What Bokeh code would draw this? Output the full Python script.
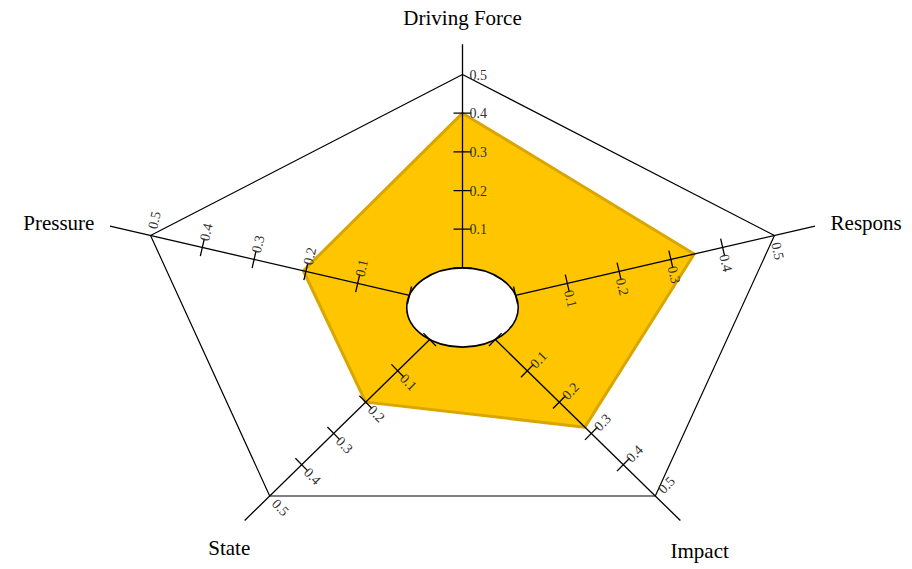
import numpy as np
from bokeh.plotting import figure
from bokeh.models import Range1d
from bokeh.embed import file_html
from bokeh.resources import INLINE

# ---- data ----
categories = ["Driving Force", "Respons", "Impact", "State", "Pressure"]
values = [0.40, 0.345, 0.28, 0.20, 0.205]
tick_values = [0.0, 0.1, 0.2, 0.3, 0.4]
tick_labels = ["0.1", "0.2", "0.3", "0.4", "0.5"]
label_values = [0.1, 0.2, 0.3, 0.4, 0.5]
max_value = 0.5

# ---- geometry ----
W, H = 910, 567
CX, CY = 462, 307          # centre in figure pixels
SX, SY = 328.0, 233.0      # pixels per unit radius (x, y)
R0 = 0.17                  # hole radius (fraction of full radius)
AX_END = 1.13

angles = np.deg2rad([90, 18, -54, -126, 162])

def rad(v):
    return R0 + (np.asarray(v) / max_value) * (1 - R0)

p = figure(width=W, height=H, output_backend="svg", toolbar_location=None,
           min_border=0, outline_line_color=None)
p.x_range = Range1d(-CX / SX, (W - CX) / SX)
p.y_range = Range1d(-(H - CY) / SY, CY / SY)
p.axis.visible = False
p.grid.visible = False
p.background_fill_color = "white"
p.border_fill_color = "white"

# outer pentagon
p.patch(np.cos(angles) * 1.0, np.sin(angles) * 1.0, fill_color=None,
        line_color="black", line_width=1.2)

# data polygon
vr = rad(values)
p.patch(np.cos(angles) * vr, np.sin(angles) * vr, fill_color="#FFC600",
        line_color="#D9A600", line_width=3, line_join="round")

# centre hole
p.ellipse(x=0, y=0, width=2 * R0, height=2 * R0,
          fill_color="white", line_color="black", line_width=1.6)

# axes lines
p.segment(x0=np.cos(angles) * R0, y0=np.sin(angles) * R0,
          x1=np.cos(angles) * AX_END, y1=np.sin(angles) * AX_END,
          line_color="black", line_width=1.3)

# ticks and tick labels
tx, ty, tang = [], [], []
lx, ly, lang, ltxt = [], [], [], []
for a in angles:
    dx, dy = np.cos(a) * SX, np.sin(a) * SY
    n = np.hypot(dx, dy)
    dx, dy = dx / n, dy / n
    px_, py_ = dy, -dx
    if px_ < 0 or (abs(px_) < 1e-9 and py_ < 0):
        px_, py_ = -px_, -py_
    pang = np.arctan2(py_, px_)
    for v in tick_values:
        r = rad(v)
        tx.append(np.cos(a) * r)
        ty.append(np.sin(a) * r)
        tang.append(pang)
    for v, t in zip(label_values, tick_labels):
        r = rad(v)
        off = 7.0
        lx.append(np.cos(a) * r + px_ * off / SX)
        ly.append(np.sin(a) * r + py_ * off / SY)
        lang.append(pang)
        ltxt.append(t)

p.scatter(x=tx, y=ty, marker="dash", size=18, angle=tang,
          line_color="black", line_width=1.3)
p.text(x=lx, y=ly, text=ltxt, angle=lang, text_font="Liberation Serif",
       text_font_size="14px", text_color="#333333",
       text_align="left", text_baseline="middle")

# category labels
cl_r = [1.19, 1.18, 1.23, 1.21, 1.18]
aligns = ["center", "left", "center", "center", "right"]
bases = ["bottom", "middle", "top", "top", "middle"]
for c, a, r, al, b in zip(categories, angles, cl_r, aligns, bases):
    p.text(x=[np.cos(a) * r], y=[np.sin(a) * r], text=[c],
           text_font="Liberation Serif", text_font_size="21px",
           text_color="black", text_align=al, text_baseline=b)

open("out.html", "w").write(file_html(p, INLINE))
